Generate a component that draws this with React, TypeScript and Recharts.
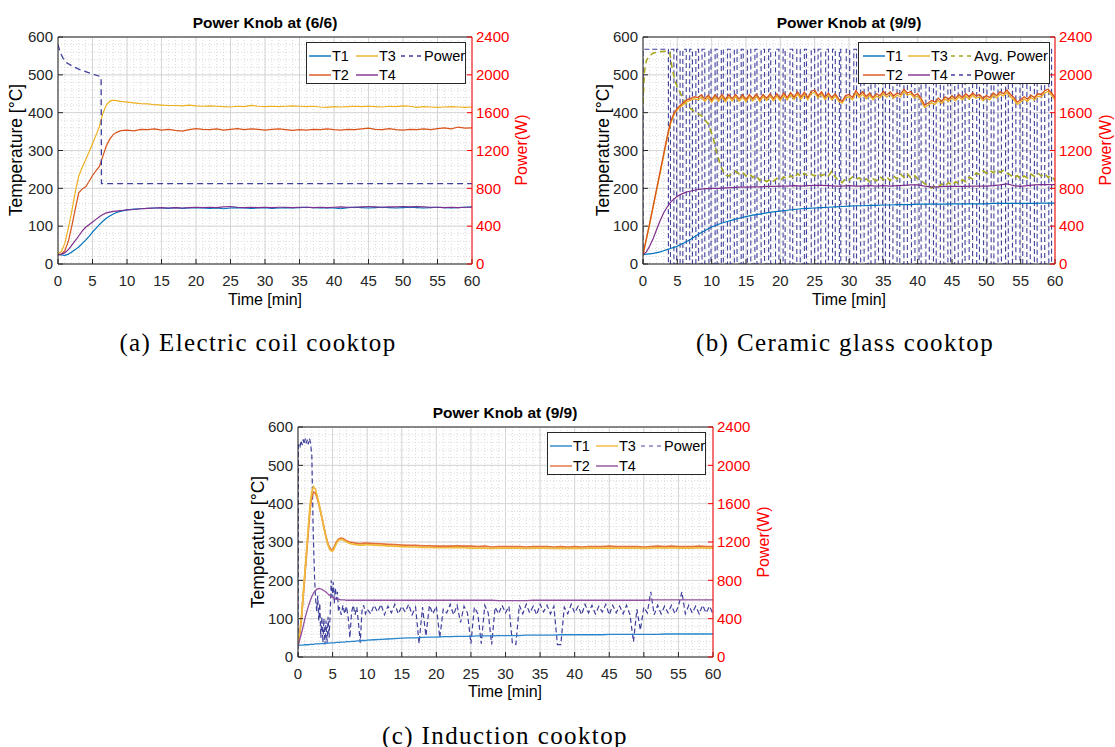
import React from "react";
import { ComposedChart, Line, XAxis, YAxis, CartesianGrid, ReferenceLine } from "recharts";

const FONT = '"Liberation Sans", Arial, Helvetica, sans-serif';
const SERIF = '"Liberation Serif", "Times New Roman", serif';

const range = (start: number, end: number, step: number) => {
  const out: number[] = [];
  for (let i = 0; start + i * step <= end + 1e-9; i++) out.push(+(start + i * step).toFixed(2));
  return out;
};

// axes
const xTicks = range(0, 60, 5);
const minorX = range(0, 60, 1);
const tempTicks = range(0, 600, 100);
const minorTemp = range(0, 600, 20);
const powerTicks = range(0, 2400, 400);

// time bases
const timeCoarse = [...range(0, 10, 0.5), ...range(11, 60, 1)];
const timeHalf = range(0, 60, 0.5);
const timeFine = [...range(0, 10, 0.25), ...range(11, 60, 1)];

// ---------- (a) electric coil, knob 6/6 ----------
const t1A = [
  25, 24, 23, 26, 32, 38, 45, 54, 63, 73,
  84, 94, 104, 113, 121, 127, 132, 136, 139, 141,
  143,
  145, 146, 147, 148, 148, 147, 149, 147, 148, 149,
  148, 147, 148, 146, 148, 149, 148, 147, 148, 149,
  147, 148, 149, 148, 149, 150, 149, 148, 149, 148,
  146, 149, 150, 149, 148, 149, 150, 149, 148, 149,
  150, 149, 148, 149, 150, 149, 148, 149, 150, 151,
];
const t2A = [
  24, 26, 35, 60, 100, 145, 188, 198, 204, 218,
  234, 246, 258, 285, 312, 330, 342, 348, 352, 353,
  354,
  352, 356, 355, 357, 354, 356, 353, 351, 355, 358,
  356, 355, 357, 354, 356, 358, 355, 357, 356, 354,
  356, 357, 355, 353, 355, 354, 356, 355, 357, 355,
  354, 356, 355, 357, 359, 356, 355, 358, 355, 354,
  356, 355, 357, 355, 358, 360, 357, 362, 359, 360,
];
const t3A = [
  27, 33, 55, 95, 140, 190, 232, 255, 275, 296,
  318, 340, 363, 398, 420, 430, 433, 432, 430, 429,
  428,
  426, 424, 423, 421, 420, 419, 419, 418, 420, 418,
  417, 418, 417, 416, 415, 417, 416, 419, 417, 416,
  417, 416, 417, 418, 417, 416, 417, 415, 414, 416,
  415, 416, 417, 416, 417, 416, 415, 417, 416, 418,
  417, 414, 416, 415, 414, 415, 416, 415, 414, 415,
];
const t4A = [
  25, 26, 30, 38, 50, 62, 74, 87, 97, 104,
  111, 118, 125, 131, 135, 137, 139, 140, 141, 142,
  143,
  144, 146, 147, 148, 149, 148, 149, 148, 149, 150,
  149, 150, 149, 151, 152, 150, 149, 150, 149, 150,
  149, 150, 150, 149, 150, 150, 149, 150, 149, 150,
  151, 150, 150, 151, 152, 151, 150, 151, 151, 152,
  151, 152, 151, 150, 150, 149, 150, 149, 150, 150,
];
const powerTimeA = [0, 0.3, 0.7, 1.2, 2, 3, 4, 5, 6, 6.25, 6.3, 60];
const powerA = [2320, 2240, 2180, 2130, 2095, 2060, 2035, 2010, 1985, 1975, 850, 850];

// ---------- (b) ceramic glass, knob 9/9 ----------
const t1B = [
  25, 26, 27, 28, 30, 32, 35, 38, 41, 44,
  47, 52, 56, 61, 66, 72, 78, 83, 88, 93,
  98,
  105, 111, 116, 121, 125, 129, 132, 135, 138, 140,
  142, 144, 146, 147, 148, 149, 150, 151, 152, 153,
  154, 154, 155, 155, 156, 156, 157, 157, 157, 158,
  158, 158, 158, 158, 159, 159, 159, 159, 159, 159,
  160, 160, 160, 160, 160, 160, 160, 161, 161, 161,
];
const t2B = [
  25, 68, 110, 155, 200, 245, 290, 335, 375, 398,
  412, 420, 428, 435, 438, 442, 440, 447, 436, 446,
  434, 447, 436, 448, 435, 447, 437, 448, 436, 447,
  435, 448, 437, 449, 436, 448, 438, 450, 437, 450,
  438, 452, 440, 453, 441, 455, 442, 454, 440, 456,
  460, 445, 455, 441, 452, 440, 450, 436, 430, 445,
  448, 440, 458, 446, 455, 443, 452, 440, 450, 445,
  456, 447, 455, 444, 452, 448, 462, 452, 456, 445,
  450, 438, 420, 425, 432, 428, 438, 430, 442, 436,
  445, 437, 448, 440, 450, 442, 452, 444, 448, 438,
  445, 440, 452, 445, 455, 450, 460, 448, 440, 428,
  434, 442, 436, 446, 440, 450, 448, 458, 462, 452,
  440,
];
const t3B = [
  25, 66, 108, 152, 196, 240, 285, 330, 370, 394,
  408, 416, 423, 430, 433, 437, 434, 441, 430, 440,
  428, 441, 430, 442, 429, 441, 431, 442, 430, 441,
  429, 442, 431, 443, 430, 442, 432, 444, 431, 444,
  432, 446, 434, 447, 435, 449, 436, 448, 434, 450,
  454, 439, 449, 435, 446, 434, 444, 430, 425, 439,
  442, 434, 452, 440, 449, 437, 446, 434, 444, 439,
  450, 441, 449, 438, 446, 442, 456, 446, 450, 439,
  444, 432, 414, 419, 426, 422, 432, 424, 436, 430,
  439, 431, 442, 434, 444, 436, 446, 438, 442, 432,
  439, 434, 446, 439, 449, 444, 454, 442, 434, 422,
  428, 436, 430, 440, 434, 444, 442, 452, 456, 446,
  434,
];
const t4B = [
  25, 32, 48, 68, 92, 115, 135, 150, 163, 172,
  179, 184, 188, 191, 193, 195, 197, 198, 199, 199,
  200,
  200, 201, 202, 203, 203, 204, 204, 205, 205, 206,
  206, 207, 206, 207, 208, 208, 207, 206, 206, 207,
  206, 206, 207, 206, 207, 206, 207, 208, 209, 209,
  206, 204, 204, 205, 205, 205, 205, 206, 206, 206,
  207, 209, 212, 207, 205, 207, 209, 210, 210, 210,
];
const avgTimeB = [0, 0.2, 0.5, 0.9, 1.5, 2.5, 3.5, 3.9, 4.2, 4.6, 5.0, 5.5, 6.0, 6.8, 7.5, 8.5, 9.5, 10.2, 10.8, 11.3, 11.8, ...range(12, 60, 0.5)];
const avgPowerB = [
  1700, 2030, 2150, 2200, 2230, 2245, 2250, 2240, 2090, 1950, 1870, 1800, 1720, 1650, 1610, 1570, 1480, 1340, 1160, 1040, 960,
  940, 930, 960, 980, 950, 970, 930, 955, 915, 935,
  880, 900, 870, 895, 875, 905, 885, 920, 900, 935,
  905, 955, 925, 960, 930, 950, 930, 955, 935, 950,
  930, 980, 920, 880, 860, 905, 890, 920, 895, 910,
  880, 900, 870, 900, 880, 925, 890, 920, 880, 930,
  900, 950, 915, 955, 910, 940, 900, 880, 850, 830,
  800, 830, 815, 845, 825, 860, 830, 870, 850, 890,
  870, 920, 900, 960, 950, 985, 960, 990, 965, 995,
  970, 990, 960, 940, 910, 935, 900, 930, 910, 950,
  925, 960, 930, 955, 915, 935,
  880,
];
const powerOnLevelB = 2270;
// heater on-intervals [start, end] in minutes
const powerOnB: [number, number][] = [
  [0, 3.7], [4.0, 4.5], [4.9, 5.4], [5.8, 6.3], [6.8, 7.2], [7.7, 8.1], [8.6, 9.0], [9.6, 9.9],
  [10.5, 10.8], [11.4, 11.7], [12.3, 12.7], [13.3, 13.7], [14.3, 14.6], [15.2, 15.7], [16.3, 16.6],
  [17.2, 17.7], [18.3, 18.6], [19.3, 19.8], [20.4, 20.7], [21.4, 21.8], [22.4, 22.9], [23.5, 23.8],
  [24.5, 25.0], [25.5, 25.9], [26.6, 27.0], [27.6, 28.0], [28.6, 28.8], [29.6, 30.1], [30.7, 31.1],
  [31.7, 32.2], [32.8, 33.2], [33.8, 34.3], [34.9, 35.3], [35.9, 36.4], [37.0, 37.4], [38.0, 38.5],
  [39.1, 39.6], [40.2, 40.5], [41.2, 41.7], [42.3, 42.7], [43.3, 43.8], [44.4, 44.8], [45.4, 45.9],
  [46.5, 46.9], [47.5, 48.0], [48.6, 49.0], [49.6, 50.1], [50.7, 51.1], [51.7, 52.2], [52.8, 53.2],
  [53.8, 54.3], [54.9, 55.3], [55.9, 56.4], [57.0, 57.4], [58.0, 58.5], [59.1, 59.5],
];

// ---------- (c) induction, knob 9/9 ----------
const t1C = [
  30, 31, 31, 31, 32, 32, 32, 33, 33, 33,
  34, 34, 34, 35, 35, 35, 36, 36, 36, 37,
  37, 37, 38, 38, 38, 39, 39, 39, 40, 40,
  40, 41, 41, 41, 42, 42, 42, 43, 43, 43,
  44,
  45, 46, 47, 48, 49, 50, 50, 51, 52, 52,
  53, 53, 54, 54, 54, 55, 55, 55, 56, 56,
  56, 56, 57, 57, 57, 57, 57, 58, 58, 58,
  58, 58, 58, 58, 59, 59, 59, 59, 59, 59,
  59, 59, 60, 60, 60, 60, 60, 60, 60, 60,
];
const t2C = [
  30, 60, 100, 158, 215, 272, 330, 388, 418, 430,
  428, 416, 400, 380, 360, 338, 318, 300, 288, 281,
  280, 288, 298, 305, 309, 310, 309, 306, 303, 301,
  300, 299, 298, 297, 297, 296, 296, 296, 297, 297,
  297,
  296, 295, 294, 293, 292, 291, 291, 290, 290, 289,
  289, 289, 290, 289, 289, 288, 289, 287, 288, 288,
  288, 288, 287, 288, 288, 288, 287, 288, 287, 288,
  287, 288, 288, 288, 289, 288, 288, 288, 288, 287,
  288, 289, 288, 289, 288, 288, 288, 289, 288, 288,
];
const t3C = [
  30, 62, 104, 163, 222, 280, 340, 398, 432, 444,
  438, 422, 403, 382, 360, 337, 316, 297, 284, 277,
  276, 284, 294, 302, 306, 307, 306, 303, 300, 298,
  296, 295, 294, 293, 293, 292, 292, 292, 292, 293,
  293,
  292, 291, 290, 289, 288, 287, 287, 286, 286, 285,
  285, 285, 286, 285, 284, 284, 284, 283, 284, 284,
  284, 284, 283, 284, 284, 284, 283, 284, 283, 284,
  283, 284, 284, 284, 284, 284, 284, 284, 284, 283,
  284, 285, 284, 285, 284, 284, 284, 285, 284, 284,
];
const t4C = [
  30, 45, 62, 80, 100, 117, 132, 146, 158, 167,
  173, 177, 179, 178, 176, 173, 170, 166, 162, 159,
  156, 153, 151, 150, 150, 149, 149, 149, 148, 148,
  148, 148, 148, 148, 148, 148, 148, 148, 148, 148,
  148,
  148, 148, 148, 148, 148, 148, 148, 148, 148, 148,
  148, 148, 148, 148, 148, 148, 148, 148, 147, 147,
  147, 147, 147, 148, 148, 148, 148, 148, 148, 148,
  148, 148, 148, 148, 148, 148, 148, 148, 148, 148,
  149, 149, 149, 149, 149, 149, 149, 149, 149, 149,
];
const powerTimeC = [
  0, 0.05, 0.15, 0.3, 0.45, 0.6, 0.75, 0.9, 1.05, 1.2,
  1.35, 1.5, 1.65, 1.8, 2.0, 2.2, 2.4, 2.55, 2.7, 2.85,
  3.0, 3.15, 3.3, 3.45, 3.6, 3.75, 3.9, 4.05, 4.2, 4.35,
  4.5, 4.65, 4.8, 4.95, 5.1, 5.25, 5.4, 5.55, 5.7, 5.85,
  6.0, 6.25, 6.5, 6.75, 7.0, 7.25, 7.5, 7.75, 8.0, 8.25,
  8.5, 8.75, 9.0, 9.25, 9.5, 9.75,
  ...range(10, 60, 0.5),
];
const powerC = [
  0, 2200, 2230, 2200, 2260, 2210, 2270, 2220, 2280, 2230,
  2270, 2220, 2280, 2240, 2100, 1300, 820, 600, 480, 640,
  380, 560, 200, 420, 150, 400, 130, 380, 140, 420,
  200, 450, 800, 620, 780, 560, 720, 600, 680, 470,
  520, 440, 540, 450, 530, 420, 200, 470, 540, 440,
  520, 350, 150, 480, 540, 450,
  500, 450, 540, 470, 550, 440, 530, 460, 550, 450,
  530, 470, 550, 440, 520, 140, 520, 220, 540, 450,
  530, 200, 500, 460, 550, 440, 540, 360, 530, 460,
  140, 520, 450, 140, 540, 460, 130, 520, 450, 540,
  460, 530, 140, 130, 540, 450, 550, 460, 530, 440,
  550, 470, 540, 450, 530, 130, 130, 520, 450, 550,
  460, 530, 440, 550, 460, 540, 450, 530, 470, 550,
  440, 540, 460, 530, 450, 540, 440, 160, 500, 280,
  520, 460, 680, 440, 540, 450, 530, 460, 540, 450,
  530, 680, 450, 540, 460, 530, 450, 540, 460, 530,
  450,
];

// ---------- helpers ----------
type Pt = { t: number; v: number };
const pts = (ts: number[], vs: number[]): Pt[] => ts.map((t, i) => ({ t, v: vs[i] }));

const powerDataB: Pt[] = [{ t: 0, v: 0 }];
powerOnB.forEach(([s, e]) => {
  powerDataB.push({ t: s, v: powerOnLevelB }, { t: e, v: 0 });
});
powerDataB.push({ t: 60, v: 0 });

const COL = { t1: "#0072BD", t2: "#D95319", t3: "#EDB120", t4: "#7E2F8E", power: "#3f3f9c", avg: "#a8a820" };
const COLC = { t1: "#2a86cc", t2: "#e2703a", t3: "#f0bb3a", t4: "#9150a0" };

type Series = { id: string; data: Pt[]; color: string; width: number; dash?: string; axis: "left" | "right"; step?: boolean };

function CooktopChart({ left, top, width, height, series }: { left: number; top: number; width: number; height: number; series: Series[] }) {
  return (
    <div style={{ position: "absolute", left, top }}>
      <ComposedChart width={width} height={height} margin={{ top: 37, right: 5, bottom: 6, left: 0 }}>
        <CartesianGrid yAxisId="left" verticalValues={minorX} horizontalValues={minorTemp} stroke="#dadada" strokeDasharray="1 2" />
        <CartesianGrid yAxisId="left" stroke="#d6d6d6" />
        <XAxis
          type="number"
          dataKey="t"
          domain={[0, 60]}
          ticks={xTicks}
          interval={0}
          allowDataOverflow
          height={40}
          stroke="#262626"
          tickSize={-5}
          tickMargin={16}
          tick={{ fontSize: 15, fill: "#262626", fontFamily: FONT }}
        />
        <YAxis
          yAxisId="left"
          type="number"
          domain={[0, 600]}
          ticks={tempTicks}
          interval={0}
          allowDataOverflow
          width={58}
          stroke="#262626"
          tickSize={-5}
          tickMargin={10}
          tick={{ fontSize: 15, fill: "#262626", fontFamily: FONT }}
        />
        <YAxis
          yAxisId="right"
          orientation="right"
          type="number"
          domain={[0, 2400]}
          ticks={powerTicks}
          interval={0}
          allowDataOverflow
          width={48}
          stroke="#ff0000"
          tickSize={-5}
          tickMargin={9}
          tick={{ fontSize: 15, fill: "#ff0000", fontFamily: FONT }}
        />
        <ReferenceLine yAxisId="left" y={600} stroke="#262626" />
        {series.map((s) => (
          <Line
            key={s.id}
            name={s.id}
            data={s.data}
            dataKey="v"
            yAxisId={s.axis}
            type={s.step ? "stepAfter" : "linear"}
            stroke={s.color}
            strokeWidth={s.width}
            strokeDasharray={s.dash}
            dot={false}
            activeDot={false}
            isAnimationActive={false}
          />
        ))}
      </ComposedChart>
    </div>
  );
}

type LegendItem = { name: string; color: string; dash?: string; x: number; y: number };

function LegendBox({ left, top, width, height, items }: { left: number; top: number; width: number; height: number; items: LegendItem[] }) {
  return (
    <div
      style={{
        position: "absolute", left, top, width, height, boxSizing: "border-box",
        border: "1px solid #262626", background: "#fff", fontFamily: FONT, fontSize: 14.5, color: "#000",
      }}
    >
      {items.map((it) => (
        <div key={it.name} style={{ position: "absolute", left: it.x, top: it.y - 9, height: 18, display: "flex", alignItems: "center", whiteSpace: "nowrap" }}>
          <svg width={22} height={4} style={{ display: "block" }}>
            <line x1={0} y1={2} x2={22} y2={2} stroke={it.color} strokeWidth={1.4} strokeDasharray={it.dash} />
          </svg>
          <span style={{ marginLeft: 1, lineHeight: "18px" }}>{it.name}</span>
        </div>
      ))}
    </div>
  );
}

function Txt({ x, y, children, size, color = "#000", bold = false, rotate = false, family = FONT, spacing = 0 }:
  { x: number; y: number; children: React.ReactNode; size: number; color?: string; bold?: boolean; rotate?: boolean; family?: string; spacing?: number }) {
  return (
    <div
      style={{
        position: "absolute", left: x, top: y, whiteSpace: "nowrap", fontFamily: family, fontSize: size, color,
        fontWeight: bold ? 700 : 400, letterSpacing: spacing, lineHeight: 1,
        transform: `translate(-50%, -50%)${rotate ? " rotate(-90deg)" : ""}`,
      }}
    >
      {children}
    </div>
  );
}

export default function App() {
  const seriesA: Series[] = [
    { id: "T1", data: pts(timeCoarse, t1A), color: COL.t1, width: 1.2, axis: "left" },
    { id: "T2", data: pts(timeCoarse, t2A), color: COL.t2, width: 1.2, axis: "left" },
    { id: "T3", data: pts(timeCoarse, t3A), color: COL.t3, width: 1.2, axis: "left" },
    { id: "T4", data: pts(timeCoarse, t4A), color: COL.t4, width: 1.2, axis: "left" },
    { id: "Power", data: pts(powerTimeA, powerA), color: COL.power, width: 1.3, dash: "6 4", axis: "right" },
  ];
  const seriesB: Series[] = [
    { id: "Power", data: powerDataB, color: COL.power, width: 1.1, dash: "5 3", axis: "right", step: true },
    { id: "Avg", data: pts(avgTimeB, avgPowerB), color: COL.avg, width: 1.6, dash: "6 4", axis: "right" },
    { id: "T1", data: pts(timeCoarse, t1B), color: COL.t1, width: 1.2, axis: "left" },
    { id: "T4", data: pts(timeCoarse, t4B), color: COL.t4, width: 1.2, axis: "left" },
    { id: "T3", data: pts(timeHalf, t3B), color: COL.t3, width: 1.3, axis: "left" },
    { id: "T2", data: pts(timeHalf, t2B), color: COL.t2, width: 1.3, axis: "left" },
  ];
  const seriesC: Series[] = [
    { id: "Power", data: pts(powerTimeC, powerC), color: COL.power, width: 1.2, dash: "5 3", axis: "right" },
    { id: "T1", data: pts(timeFine, t1C), color: COLC.t1, width: 1.3, axis: "left" },
    { id: "T2", data: pts(timeFine, t2C), color: COLC.t2, width: 1.7, axis: "left" },
    { id: "T3", data: pts(timeFine, t3C), color: COLC.t3, width: 1.7, axis: "left" },
    { id: "T4", data: pts(timeFine, t4C), color: COLC.t4, width: 1.3, axis: "left" },
  ];

  return (
    <div style={{ position: "absolute", left: 0, top: 0, width: 1115, height: 747, overflow: "hidden", background: "#fff" }}>
      {/* (a) */}
      <CooktopChart left={0} top={0} width={525} height={310} series={seriesA} />
      <LegendBox
        left={306} top={42} width={160} height={42}
        items={[
          { name: "T1", color: COL.t1, x: 2, y: 13 },
          { name: "T2", color: COL.t2, x: 2, y: 32 },
          { name: "T3", color: COL.t3, x: 49, y: 13 },
          { name: "T4", color: COL.t4, x: 49, y: 32 },
          { name: "Power", color: COL.power, dash: "4 4", x: 94, y: 13 },
        ]}
      />
      <Txt x={265} y={23} size={15.5} bold>Power Knob at (6/6)</Txt>
      <Txt x={17} y={150} size={17.5} rotate>Temperature [°C]</Txt>
      <Txt x={522} y={150} size={16} rotate color="#ff0000">Power(W)</Txt>
      <Txt x={265} y={300} size={16}>Time [min]</Txt>
      <Txt x={258} y={342} size={25} family={SERIF} spacing={1.4}>(a) Electric coil cooktop</Txt>

      {/* (b) */}
      <CooktopChart left={585} top={0} width={523} height={310} series={seriesB} />
      <LegendBox
        left={858} top={42} width={192} height={42}
        items={[
          { name: "T1", color: COL.t1, x: 4, y: 13 },
          { name: "T2", color: COL.t2, x: 4, y: 32 },
          { name: "T3", color: COL.t3, x: 49, y: 13 },
          { name: "T4", color: COL.t4, x: 49, y: 32 },
          { name: "Avg. Power", color: COL.avg, dash: "4 4", x: 92, y: 13 },
          { name: "Power", color: COL.power, dash: "4 4", x: 92, y: 32 },
        ]}
      />
      <Txt x={849} y={23} size={15.5} bold>Power Knob at (9/9)</Txt>
      <Txt x={604} y={150} size={17.5} rotate>Temperature [°C]</Txt>
      <Txt x={1106} y={150} size={16} rotate color="#ff0000">Power(W)</Txt>
      <Txt x={849} y={300} size={16}>Time [min]</Txt>
      <Txt x={845} y={342} size={25} family={SERIF} spacing={1.4}>(b) Ceramic glass cooktop</Txt>

      {/* (c) */}
      <CooktopChart left={240} top={390} width={526} height={313} series={seriesC} />
      <LegendBox
        left={547} top={432} width={159} height={43}
        items={[
          { name: "T1", color: COLC.t1, x: 2, y: 13 },
          { name: "T2", color: COLC.t2, x: 2, y: 33 },
          { name: "T3", color: COLC.t3, x: 48, y: 13 },
          { name: "T4", color: COLC.t4, x: 48, y: 33 },
          { name: "Power", color: "#8a80c0", dash: "4 4", x: 93, y: 13 },
        ]}
      />
      <Txt x={505} y={413} size={15.5} bold>Power Knob at (9/9)</Txt>
      <Txt x={259} y={542} size={17.5} rotate>Temperature [°C]</Txt>
      <Txt x={764} y={542} size={16} rotate color="#ff0000">Power(W)</Txt>
      <Txt x={505} y={692} size={16}>Time [min]</Txt>
      <Txt x={505} y={735} size={25} family={SERIF} spacing={1.4}>(c) Induction cooktop</Txt>
    </div>
  );
}
